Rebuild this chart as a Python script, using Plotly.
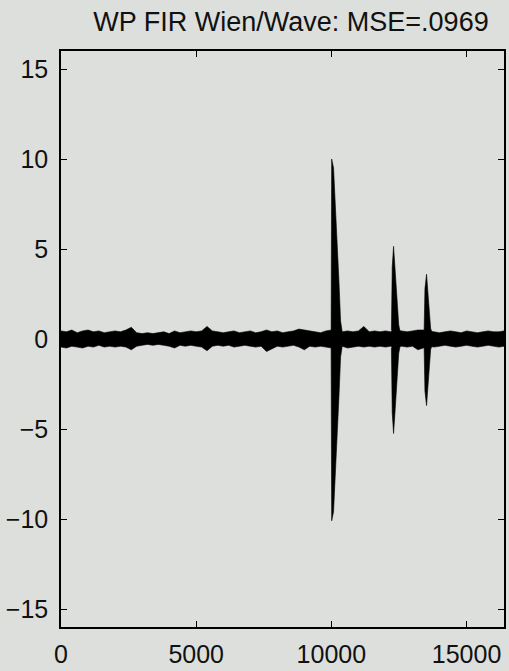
import plotly.graph_objects as go

# ---- data ----
noise_x = list(range(0, 16400, 200)) + [16384]
noise_upper = [0.45, 0.40, 0.50, 0.35, 0.45, 0.50, 0.40, 0.45, 0.35, 0.42,
               0.45, 0.40, 0.50, 0.65, 0.35, 0.30, 0.35, 0.30, 0.35, 0.40,
               0.30, 0.45, 0.35, 0.40, 0.45, 0.40, 0.45, 0.70, 0.45, 0.40,
               0.35, 0.40, 0.45, 0.35, 0.40, 0.45, 0.35, 0.40, 0.50, 0.40,
               0.45, 0.35, 0.40, 0.45, 0.55, 0.50, 0.45, 0.40, 0.35, 0.45,
               0.50, 0.45, 0.40, 0.45, 0.40, 0.45, 0.70, 0.40, 0.45, 0.40,
               0.45, 0.40, 0.50, 0.45, 0.40, 0.45, 0.50, 0.50, 0.45, 0.40,
               0.35, 0.40, 0.45, 0.40, 0.35, 0.45, 0.40, 0.35, 0.40, 0.45,
               0.40, 0.40, 0.45]
noise_lower = [-0.45, -0.50, -0.40, -0.45, -0.50, -0.40, -0.45, -0.35, -0.45, -0.40,
               -0.45, -0.40, -0.45, -0.60, -0.40, -0.35, -0.30, -0.35, -0.30, -0.35,
               -0.40, -0.50, -0.35, -0.40, -0.35, -0.40, -0.45, -0.65, -0.40, -0.35,
               -0.40, -0.35, -0.45, -0.40, -0.35, -0.40, -0.45, -0.40, -0.70, -0.55,
               -0.40, -0.45, -0.40, -0.35, -0.45, -0.60, -0.40, -0.45, -0.40, -0.45,
               -0.50, -0.45, -0.40, -0.50, -0.45, -0.40, -0.45, -0.40, -0.45, -0.40,
               -0.45, -0.40, -0.45, -0.40, -0.45, -0.40, -0.60, -0.50, -0.40, -0.45,
               -0.40, -0.35, -0.40, -0.45, -0.40, -0.35, -0.40, -0.45, -0.40, -0.35,
               -0.40, -0.45, -0.40]

burst1_x = [9990, 10010, 10080, 10150, 10215, 10280, 10340, 10400]
burst1_upper = [0.5, 10.0, 9.5, 7.5, 5.5, 3.2, 1.0, 0.4]
burst1_lower = [-0.5, -10.1, -9.6, -7.6, -5.5, -3.2, -1.0, -0.4]

burst2_x = [12220, 12250, 12300, 12360, 12420, 12490, 12540]
burst2_upper = [0.5, 4.0, 5.15, 3.8, 2.2, 0.8, 0.4]
burst2_lower = [-0.5, -4.1, -5.25, -3.9, -2.2, -0.8, -0.4]

burst3_x = [13430, 13460, 13520, 13570, 13620, 13670, 13710]
burst3_upper = [0.5, 2.8, 3.6, 2.6, 1.5, 0.6, 0.4]
burst3_lower = [-0.5, -2.9, -3.7, -2.7, -1.5, -0.6, -0.4]

x_ticks = [0, 5000, 10000, 15000]
x_tick_labels = ["0", "5000", "10000", "15000"]
y_ticks = [-15, -10, -5, 0, 5, 10, 15]
y_tick_labels = ["\u221215", "\u221210", "\u22125", "0", "5", "10", "15"]
title_text = "WP FIR Wien/Wave: MSE=.0969"

BG = "rgb(221,223,220)"
FONT = "Liberation Sans, Arial, Helvetica, sans-serif"

fig = go.Figure()


def add_band(xs, up, lo):
    # closed polygon: upper envelope forward, lower envelope backward
    fig.add_trace(go.Scatter(
        x=list(xs) + list(xs)[::-1],
        y=list(up) + list(lo)[::-1],
        mode="lines", fill="toself", fillcolor="black",
        line=dict(color="black", width=0.6),
        hoverinfo="skip", showlegend=False))


add_band(noise_x, noise_upper, noise_lower)
add_band(burst1_x, burst1_upper, burst1_lower)
add_band(burst2_x, burst2_upper, burst2_lower)
add_band(burst3_x, burst3_upper, burst3_lower)

axis_common = dict(
    showgrid=False, zeroline=False, showline=True, linecolor="black",
    linewidth=1.5, mirror="ticks", ticks="inside", ticklen=6,
    tickcolor="black", tickwidth=1.2,
    tickfont=dict(family=FONT, size=25, color="#111111"),
)

fig.update_layout(
    width=509, height=671,
    margin=dict(l=61, r=3, t=51, b=37),
    paper_bgcolor=BG, plot_bgcolor=BG,
    title=dict(text=title_text, x=291 / 509, xanchor="center",
               y=1 - 22 / 671, yanchor="middle", yref="container",
               font=dict(family=FONT, size=27, color="#111111")),
    xaxis=dict(range=[0, 16384], tickvals=x_ticks, ticktext=x_tick_labels,
               ticklabelstandoff=4, **axis_common),
    yaxis=dict(range=[-16, 16], tickvals=y_ticks, ticktext=y_tick_labels,
               ticklabelstandoff=6, **axis_common),
)

fig.write_html("out.html",
               config={"displayModeBar": False},
               post_script="document.body.style.margin='0';"
                           "document.body.style.overflow='hidden';")
